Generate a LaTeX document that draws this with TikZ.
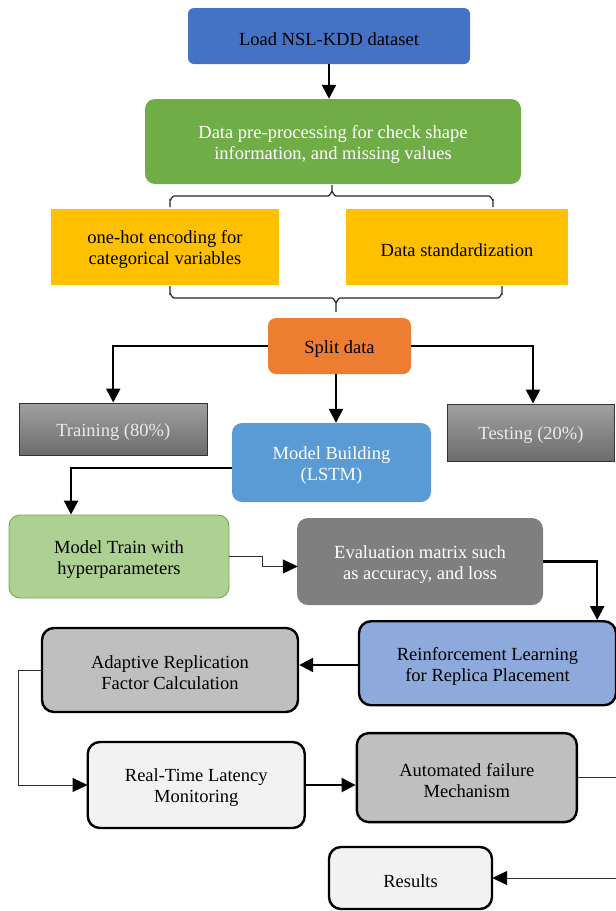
\documentclass[tikz,border=0pt]{standalone}
\usepackage{fontspec}
\setmainfont{Liberation Serif}
\usetikzlibrary{arrows.meta,calc}
\definecolor{cLoad}{HTML}{4472C4}
\definecolor{cPrep}{HTML}{70AD47}
\definecolor{cYel}{HTML}{FFC000}
\definecolor{cOra}{HTML}{ED7D31}
\definecolor{cModel}{HTML}{5B9BD5}
\definecolor{cMTrain}{HTML}{ACD193}
\definecolor{cEval}{HTML}{7F7F7F}
\definecolor{cRL}{HTML}{8EA9DB}
\definecolor{cMid}{HTML}{BFBFBF}
\definecolor{cLight}{HTML}{F2F2F2}
\definecolor{gTop}{HTML}{A0A0A0}
\definecolor{gBot}{HTML}{6C6C6C}
\definecolor{gEdge}{HTML}{333333}
\definecolor{cThin}{HTML}{303030}
\begin{document}
\begin{tikzpicture}[x=1pt,y=-1pt,
  box/.style={inner sep=0pt, align=flush center, text width=150pt, font=\fontsize{18.5}{21}\selectfont,
    execute at begin node={\rule{0pt}{18.5pt}}},
  heavybox/.style={box, draw=black, line width=2.4pt, rounded corners=12pt},
  graybox/.style={box, top color=gTop, bottom color=gBot, draw=gEdge, line width=0.9pt, text=white!92!black},
  arr/.style={line width=2.4pt, -{Triangle[length=14pt,width=14pt]}},
  thinarr/.style={line width=1pt, cThin, -{Triangle[length=15pt,width=14pt,color=black]}, shorten >=-1pt},
  bracepath/.style={line width=1.2pt, black!85}
]
\useasboundingbox (0,0) rectangle (616,911);

% nodes
\node[box, text width=260pt, fill=cLoad, rounded corners=6pt, minimum width=282pt, minimum height=56pt] (load) at (329,36) {Load NSL-KDD dataset};
\node[box, text width=350pt, fill=cPrep, text=white, rounded corners=10pt, minimum width=376pt, minimum height=85pt] (prep) at (333,141.5) {Data pre-processing for check shape\\information, and missing values};
\node[box, text width=210pt, fill=cYel, minimum width=228pt, minimum height=76pt] (onehot) at (165,247) {one-hot encoding for\\categorical variables};
\node[box, text width=205pt, fill=cYel, minimum width=222pt, minimum height=76pt] (stdz) at (457,247) {Data standardization};
\node[box, text width=130pt, fill=cOra, rounded corners=8pt, minimum width=143pt, minimum height=56pt] (split) at (339.5,346) {Split data};
\node[graybox, text width=175pt, minimum width=188pt, minimum height=52pt] (train) at (113.25,429) {Training (80\%)};
\node[graybox, text width=155pt, minimum width=167pt, minimum height=57pt] (test) at (531,432.5) {Testing (20\%)};
\node[box, text width=185pt, fill=cModel, text=white, rounded corners=10pt, minimum width=199pt, minimum height=79pt] (model) at (331.5,462.5) {Model Building\\(LSTM)};
\node[box, text width=205pt, fill=cMTrain, draw=cPrep, line width=0.9pt, rounded corners=11pt, minimum width=220pt, minimum height=83pt] (mtrain) at (119,556.5) {Model Train with\\hyperparameters};
\node[box, text width=230pt, fill=cEval, text=white, rounded corners=11pt, minimum width=246pt, minimum height=87pt] (eval) at (420,561.5) {Evaluation matrix such\\as accuracy, and loss};
\node[heavybox, text width=240pt, fill=cRL, minimum width=257pt, minimum height=84pt] (rl) at (487.5,663.25) {Reinforcement Learning\\for Replica Placement};
\node[heavybox, text width=240pt, fill=cMid, minimum width=256pt, minimum height=84pt] (adapt) at (170,670) {Adaptive Replication\\Factor Calculation};
\node[heavybox, text width=200pt, fill=cLight, minimum width=217pt, minimum height=86pt] (rt) at (196.25,785) {Real-Time Latency\\Monitoring};
\node[heavybox, text width=205pt, fill=cMid, minimum width=220pt, minimum height=89pt] (auto) at (466.8,777.6) {Automated failure\\Mechanism};
\node[heavybox, text width=150pt, fill=cLight, minimum width=163pt, minimum height=62pt] (res) at (410.5,878) {Results};

% braces
\draw[bracepath] (170,207) -- (170,200) to[out=-90,in=180] (174,196) -- (328,196) to[out=0,in=90] (332,192) -- (332,185);
\draw[bracepath] (332,192) to[out=90,in=180] (336,196) -- (489,196) to[out=0,in=-90] (493,200) -- (493,207);
\draw[bracepath] (170,286) -- (170,294) to[out=90,in=180] (174,298) -- (332,298) to[out=0,in=-90] (336,302) -- (336,312);
\draw[bracepath] (336,302) to[out=-90,in=180] (340,298) -- (498,298) to[out=0,in=90] (502,294) -- (502,286);

% connectors
\draw[arr] (load.south) -- (load.south |- prep.north);
\draw[arr] (split.west) -| (train.north);
\draw[arr] (split.east) -| ([xshift=2pt]test.north);
\draw[arr] ([xshift=-3.5pt]split.south) -- ([xshift=-3.5pt]split.south |- model.north);
\draw[arr] ([yshift=-5.5pt]model.west) -| ($(mtrain.north west)+(62.5,0)$);
\draw[thinarr] (mtrain.east) -- ++(33.5,0) |- ([yshift=-5pt]eval.west);
\draw[arr] (eval.east) -| ($(rl.north east)+(-20,0)$);
\draw[arr] ([yshift=-1.75pt]rl.west) -- ([yshift=-1.75pt]rl.west -| adapt.east);
\draw[thinarr] (adapt.west) -- ++(-22,0) |- (rt.west);
\draw[arr] (rt.east) -- (rt.east -| auto.west);
\draw[thinarr] (auto.east) -- ++(52,0) |- (res.east);
\end{tikzpicture}
\end{document}
